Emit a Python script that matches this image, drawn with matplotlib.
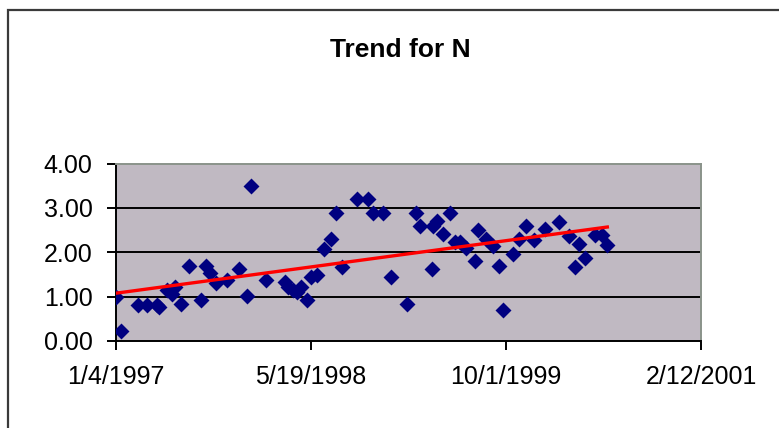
"""Excel-style scatter of N over time with a linear trend line."""

import matplotlib
import numpy as np
import pandas as pd

matplotlib.use("Agg")
import matplotlib.pyplot as plt  # noqa: E402
import matplotlib.dates as mdates  # noqa: E402
from matplotlib.patches import Rectangle  # noqa: E402

plt.rcParams["font.family"] = ["Liberation Sans", "DejaVu Sans"]

START = "1997-01-04"
day_offset = [0, 14, 58, 80, 106, 112, 131, 144, 153, 169, 188, 218, 233, 243, 258, 286,
              316, 338, 347, 385, 434, 443, 455, 464, 475, 491, 500, 515, 534, 553, 566,
              580, 618, 646, 659, 685, 707, 748, 771, 780, 812, 814, 824, 840, 856, 869,
              882, 898, 920, 929, 949, 967, 983, 994, 1019, 1034, 1051, 1073, 1100, 1136,
              1162, 1177, 1187, 1204, 1229, 1247, 1260]
n_value = [1.00, 0.22, 0.82, 0.82, 0.82, 0.77, 1.15, 1.07, 1.22, 0.83, 1.70, 0.93, 1.70,
           1.54, 1.31, 1.37, 1.63, 1.01, 3.50, 1.37, 1.33, 1.22, 1.15, 1.11, 1.21, 0.93,
           1.45, 1.48, 2.08, 2.29, 2.89, 1.67, 3.20, 3.20, 2.89, 2.89, 1.45, 0.83, 2.89,
           2.59, 1.63, 2.59, 2.71, 2.41, 2.89, 2.24, 2.24, 2.09, 1.80, 2.50, 2.29, 2.14,
           1.70, 0.69, 1.97, 2.29, 2.59, 2.27, 2.52, 2.69, 2.37, 1.66, 2.18, 1.88, 2.39,
           2.39, 2.16]
x_ticks = ["1997-01-04", "1998-05-19", "1999-10-01", "2001-02-12"]
y_ticks = [0, 1, 2, 3, 4]

dates = pd.Timestamp(START) + pd.to_timedelta(day_offset, unit="D")
xnum = mdates.date2num(dates.to_pydatetime())
ticknum = mdates.date2num(pd.to_datetime(x_ticks).to_pydatetime())

fig = plt.figure(figsize=(7.79, 4.28), dpi=100)
fig.patches.append(Rectangle((8 / 779, -0.1), 1.0, 1 - 9.5 / 428 + 0.1, transform=fig.transFigure,
                             fill=False, edgecolor="#3a3a3a", linewidth=1.6))

ax = fig.add_axes([115.5 / 779, 1 - 341 / 428, 585.5 / 779, 177.5 / 428])
ax.set_facecolor("#c0b9c2")
ax.set_xlim(ticknum[0], ticknum[-1])
ax.set_ylim(0, 4)

for y in y_ticks[1:-1]:
    ax.axhline(y, color="black", linewidth=1.4, zorder=1)

ax.scatter(xnum, n_value, marker="D", s=66, color="#000080", linewidths=0, zorder=3)

# linear trend (Excel-style trendline over the data range)
k, b = np.polyfit(xnum, n_value, 1)
xs = np.array([xnum.min(), xnum.max()])
ax.plot(xs, k * xs + b, color="#ff0000", linewidth=2.4, zorder=4)

ax.set_xticks(ticknum)
ax.set_xticklabels([f"{d.month}/{d.day}/{d.year}" for d in pd.to_datetime(x_ticks)])
ax.set_yticks(y_ticks)
ax.set_yticklabels([f"{v:.2f}" for v in y_ticks])
ax.tick_params(axis="both", labelsize=18, colors="black", width=1.4, length=6.5)
ax.tick_params(axis="y", pad=10)
ax.tick_params(axis="x", pad=11)

for side in ("left", "bottom"):
    ax.spines[side].set_color("black")
    ax.spines[side].set_linewidth(1.4)
for side in ("top", "right"):
    ax.spines[side].set_color("#8a938a")
    ax.spines[side].set_linewidth(1.4)

fig.text(400 / 779, 1 - 50 / 428, "Trend for N", ha="center", va="center",
         fontsize=19, fontweight="bold")

fig.savefig("out.png", dpi=100, facecolor="white")
